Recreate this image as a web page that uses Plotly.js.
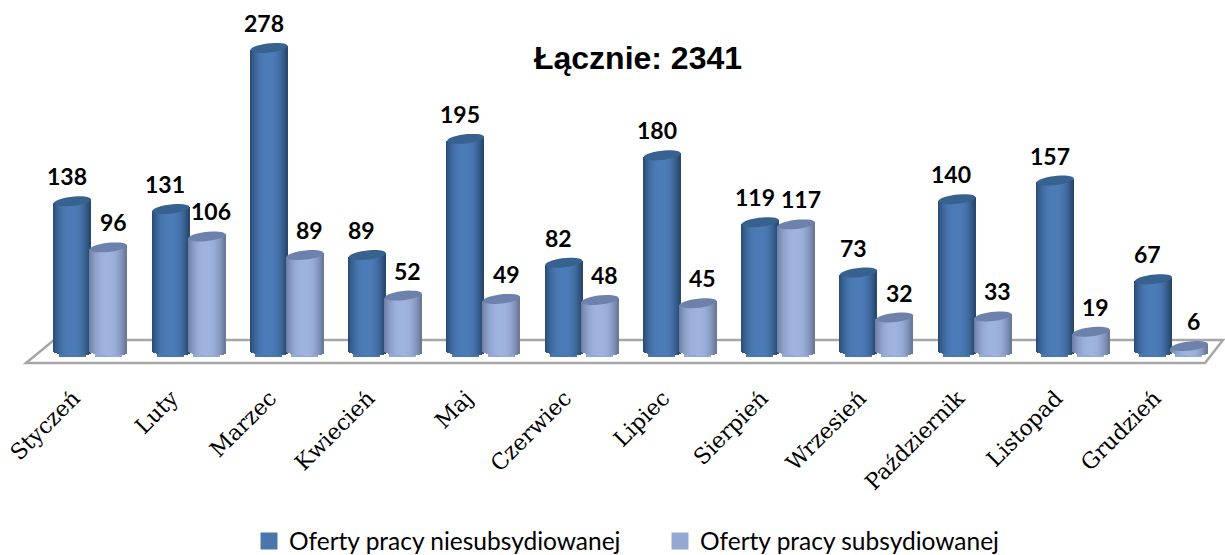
<!DOCTYPE html>
<html><head><meta charset="utf-8">
<script src="https://cdn.plot.ly/plotly-3.0.1.min.js"></script>
<style>html,body{margin:0;padding:0;background:#fff}</style></head>
<body><div id="chart" style="width:1225px;height:555px"></div>
<script>
const months = ["Styczeń","Luty","Marzec","Kwiecień","Maj","Czerwiec","Lipiec","Sierpień","Wrzesień","Październik","Listopad","Grudzień"];
const niesubsydiowane = [138,131,278,89,195,82,180,119,73,140,157,67];
const subsydiowane = [96,106,89,52,49,48,45,117,32,33,19,6];

const W=1225,H=555,plotB=380,step=98.27,x0=90.5,pxU=1.096,zero=354.6,barW=37,N=37;
const idx = months.map((_,i)=>i);
const pu = 1/pxU, toX = px => (px-x0)/step;
const series = [
 {name:"Oferty pracy niesubsydiowanej",vals:niesubsydiowane,off:-18,edgeL:[40,74,115],edgeR:[38,68,104],mid:[76,124,184],top:"#37618f",leg:"#4a76ac",dl:-5.5},
 {name:"Oferty pracy subsydiowanej",vals:subsydiowane,off:18,edgeL:[108,124,160],edgeR:[104,118,150],mid:[158,179,222],top:"#6c82ac",leg:"#93a9d4",dl:4.5}
];
const traces=[],shapes=[],annotations=[];
shapes.push({type:"path",xref:"paper",yref:"paper",layer:"below",
  path:`M ${54/W} ${1-340/plotB} L ${1223/W} ${1-340/plotB} L ${1205/W} ${1-363/plotB} L ${26/W} ${1-363/plotB} Z`,
  line:{color:"#a6a6a6",width:2.5},fillcolor:"#ffffff"});
const mix=(a,b,t)=>`rgb(${a.map((v,k)=>Math.round(v+(b[k]-v)*t)).join(",")})`;
const rx=barW/2,ryT=4.6,ryB=3.6;
series.forEach(s=>{
  const xc=idx.map(i=>i+s.off/step);
  traces.push({type:"bar",name:s.name,x:xc,y:s.vals,width:22/step,marker:{color:s.leg,line:{color:s.leg,width:5}},hoverinfo:"name+y",showlegend:true});
  for(let k=0;k<N;k++){
    const a=-1+(k+.5)*2/N, w=Math.abs(a);
    const col=a<0?mix(s.mid,s.edgeL,Math.pow(w,2.4)):mix(s.mid,s.edgeR,Math.pow(w,2.4));
    const bottomPx=2.6-ryB*Math.sqrt(1-a*a)-a;
    const topPx=2+a*2;
    const bases=idx.map(()=>bottomPx*pu);
    traces.push({type:"bar",x:idx.map(i=>i+(s.off+a*rx)/step),y:s.vals.map(v=>v+topPx*pu-bottomPx*pu),base:bases,
      width:(barW/N+.4)/step,marker:{color:col,line:{width:0}},showlegend:false,hoverinfo:"skip"});
  }
  idx.forEach(i=>{
    const pts=[];
    for(let d=0;d<360;d+=12){const r=d*Math.PI/180,ex=rx*Math.cos(r),ey=ryT*Math.sin(r);
      pts.push((d?"L ":"M ")+ex.toFixed(2)+" "+(2+ey+ex/rx*2).toFixed(2));}
    shapes.push({type:"path",xref:"x",yref:"y",xsizemode:"pixel",ysizemode:"pixel",xanchor:i+s.off/step,yanchor:s.vals[i],
      path:pts.join(" ")+" Z",fillcolor:s.top,line:{width:0},layer:"above"});
    annotations.push({x:i+(s.off+s.dl)/step,y:s.vals[i],xref:"x",yref:"y",yshift:27,text:String(s.vals[i]),showarrow:false,
      xanchor:"center",yanchor:"middle",font:{family:"Lato",size:23,color:"#000",weight:700}});
  });
});
const layout={
  width:W,height:H,paper_bgcolor:"#fff",plot_bgcolor:"rgba(0,0,0,0)",barmode:"overlay",bargap:0,
  margin:{l:0,r:0,t:0,b:H-plotB,autoexpand:false},showlegend:true,
  title:{text:"<b>Łącznie: 2341</b>",x:638/W,xref:"paper",xanchor:"center",y:1-58/H,yanchor:"middle",font:{family:"Liberation Sans",size:32,color:"#000"}},
  xaxis:{range:[toX(0),toX(W)],tickmode:"array",tickvals:idx,ticktext:months,tickangle:-45,ticklabelshift:-17,ticks:"",showgrid:false,zeroline:false,showline:false,
    tickfont:{family:"DejaVu Serif",size:22,color:"#000"},fixedrange:true},
  yaxis:{range:[(zero-plotB)/pxU,zero/pxU],visible:false,showgrid:false,zeroline:false,fixedrange:true},
  legend:{orientation:"h",x:249/W,xanchor:"left",y:(plotB-541)/plotB,yanchor:"middle",entrywidth:366,entrywidthmode:"pixels",
    font:{family:"Lato",size:24.5,color:"#000"},bgcolor:"rgba(0,0,0,0)",traceorder:"normal"},
  shapes,annotations
};
Plotly.newPlot("chart",traces,layout,{displayModeBar:false,responsive:false});
</script></body></html>
